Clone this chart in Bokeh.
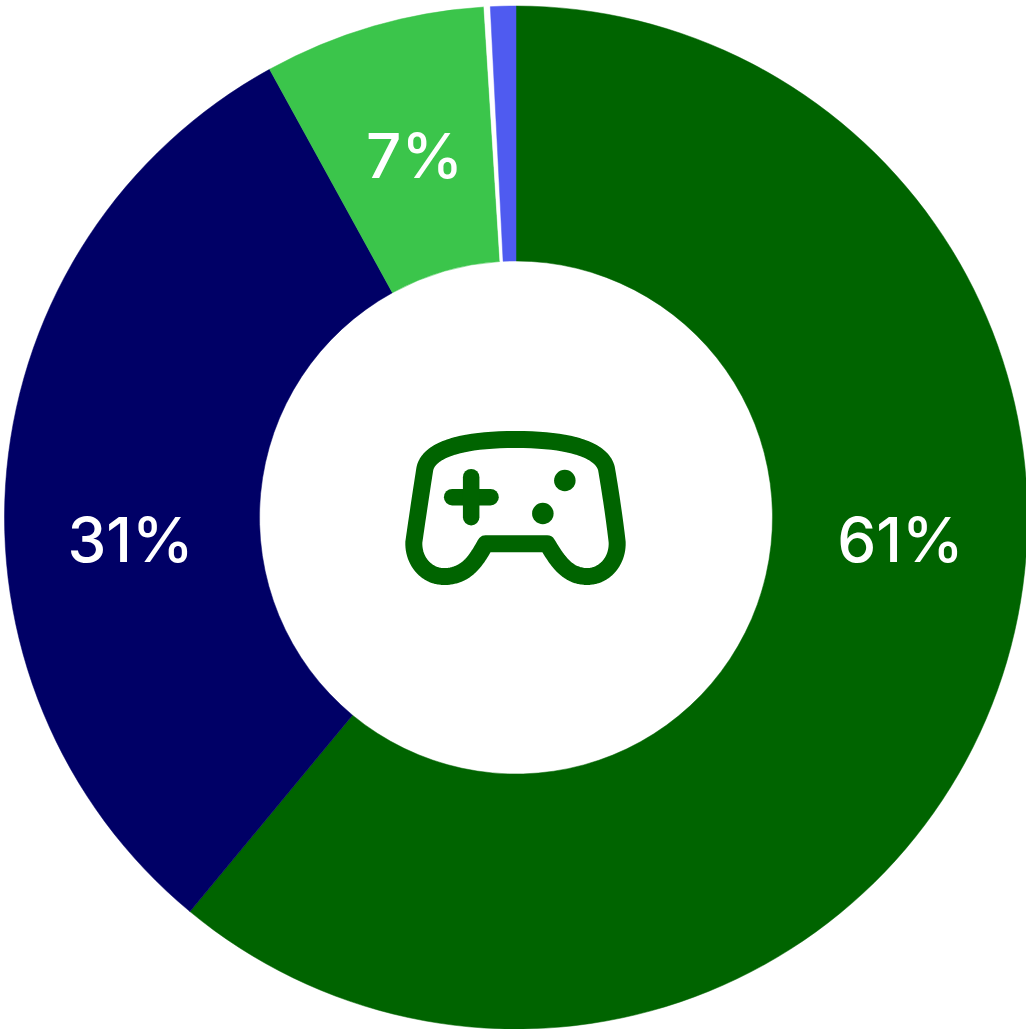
import numpy as np
from bokeh.core.properties import value
from bokeh.embed import file_html
from bokeh.models import ColumnDataSource, Range1d
from bokeh.plotting import figure
from bokeh.resources import INLINE

# Share of each segment, clockwise from twelve o'clock
segments = ["Primary", "Secondary", "Tertiary", "Gap", "Other"]
shares = [61, 31, 7, 0.2, 0.8]
colors = ["#006400", "#000066", "#3BC54B", "#FFFFFF", "#4F5BF0"]
labelled = [True, True, True, False, False]
label_x = [900, 130, 414, 0, 0]
label_y = [539, 539, 155, 0, 0]

W, H = 1026, 1029
CX, CY = 515.5, 517
R_OUT, R_IN = 511.5, 256.5
ICON = "#006400"

p = figure(width=W, height=H, output_backend="svg", toolbar_location=None,
           x_range=Range1d(0, W), y_range=Range1d(H, 0),
           min_border=0, outline_line_color=None)
p.axis.visible = False
p.grid.visible = False
p.background_fill_color = "#FFFFFF"
p.border_fill_color = "#FFFFFF"

# Ring segments, laid out from the cumulative shares
edges = np.cumsum([0] + shares) / sum(shares) * 2 * np.pi
ring = ColumnDataSource(dict(
    start=np.pi / 2 - edges[:-1],
    end=np.pi / 2 - edges[1:],
    color=colors,
    name=segments,
))
p.annular_wedge(x=CX, y=CY, inner_radius=R_IN, outer_radius=R_OUT,
                start_angle="start", end_angle="end", direction="clock",
                fill_color="color", line_color="color", line_width=0.5,
                source=ring)

# Percentage labels on the larger segments
shown = [i for i, flag in enumerate(labelled) if flag]
p.text(x=[label_x[i] for i in shown], y=[label_y[i] for i in shown],
       text=[f"{shares[i]}%" for i in shown],
       text_color="#FFFFFF", text_font=value("Inter Medium, Inter"), text_font_size="62px",
       text_font_style="normal", text_align="center", text_baseline="middle")


def curve(p0, c0, c1, p1, n=24):
    """Sample one cubic Bezier segment."""
    t = np.linspace(0, 1, n)[:, None]
    a, b, c, d = map(np.array, (p0, c0, c1, p1))
    return (1 - t) ** 3 * a + 3 * (1 - t) ** 2 * t * b + 3 * (1 - t) * t ** 2 * c + t ** 3 * d


def icon_xy(pts):
    return 390 + pts[:, 0] / 3, 415 + pts[:, 1] / 3


# Game controller outline in the centre of the ring
outline = np.vstack([
    curve((285, 385), (340, 385), (415, 385), (470, 385)),
    curve((470, 385), (500, 435), (530, 483), (590, 483)),
    curve((590, 483), (642, 483), (682, 437), (680, 380)),
    curve((680, 380), (672, 310), (660, 230), (648, 160)),
    curve((648, 160), (638, 115), (570, 72), (375, 72)),
    curve((375, 72), (180, 72), (112, 115), (103, 160)),
    curve((103, 160), (92, 230), (80, 310), (70, 380)),
    curve((70, 380), (68, 437), (108, 483), (160, 483)),
    curve((160, 483), (225, 483), (255, 440), (285, 385)),
])
ox, oy = icon_xy(outline)
p.line(ox, oy, line_color=ICON, line_width=17, line_join="round", line_cap="round")

# Direction pad
for seg in ([(185, 245), (300, 245)], [(242, 185), (242, 305)]):
    sx, sy = icon_xy(np.array(seg, dtype=float))
    p.line(sx, sy, line_color=ICON, line_width=16.5, line_cap="round")

# Two face buttons
bx, by = icon_xy(np.array([(523, 195), (457, 294)], dtype=float))
p.scatter(bx, by, size=21.5, marker="circle", fill_color=ICON, line_color=None)

open("out.html", "w").write(file_html(p, INLINE))
